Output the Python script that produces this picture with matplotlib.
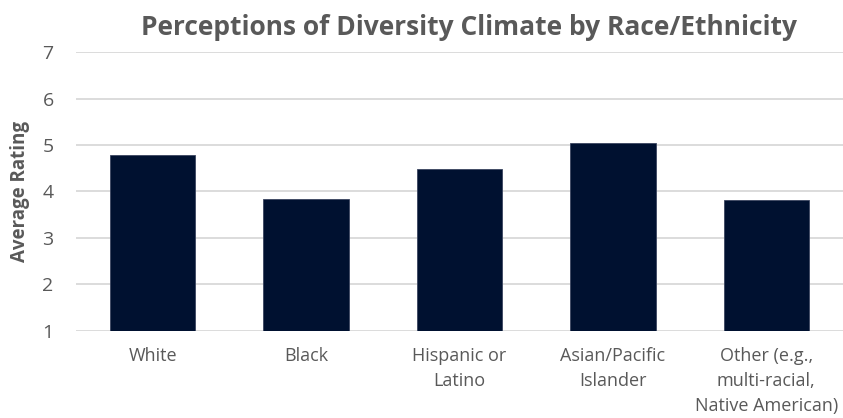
import matplotlib.pyplot as plt

# average diversity-climate rating per group
groups = ["White", "Black", "Hispanic or\nLatino", "Asian/Pacific\nIslander",
          "Other (e.g.,\nmulti-racial,\nNative American)"]
ratings = [4.79, 3.84, 4.49, 5.04, 3.81]

BAR_COLOR = "#001130"
TEXT_COLOR = "#595959"
GRID_COLOR = "#d9d9d9"

plt.rcParams["font.family"] = ["Open Sans", "DejaVu Sans"]

fig = plt.figure(figsize=(8.43, 4.18), dpi=100)
ax = fig.add_axes([0.090, 0.209, 0.910, 0.666])

x = range(len(groups))
ax.bar(x, ratings, width=0.556, bottom=0, color=BAR_COLOR,
       edgecolor="#3a4560", linewidth=0.6, zorder=3)

ax.set_ylim(1, 7)
ax.set_xlim(-0.5, len(groups) - 0.5)
ax.set_yticks(range(1, 8))
ax.yaxis.grid(True, color=GRID_COLOR, linewidth=1.3, zorder=0)
ax.set_xticks(list(x))
ax.set_xticklabels(groups, fontsize=13, color=TEXT_COLOR, linespacing=1.5)
ax.tick_params(axis="y", labelsize=14, colors=TEXT_COLOR, length=0, pad=16)
ax.tick_params(axis="x", length=0, pad=12)
for s in ax.spines.values():
    s.set_visible(False)

ax.set_ylabel("Average Rating", fontsize=13.5, fontweight="bold",
              color=TEXT_COLOR)
ax.yaxis.label.set_va("center")
ax.yaxis.set_label_coords(-0.073, 0.5)

fig.text(0.556, 0.916, "Perceptions of Diversity Climate by Race/Ethnicity",
         ha="center", va="baseline", fontsize=19, fontweight="bold",
         color=TEXT_COLOR)

fig.savefig("out.png", dpi=100)
